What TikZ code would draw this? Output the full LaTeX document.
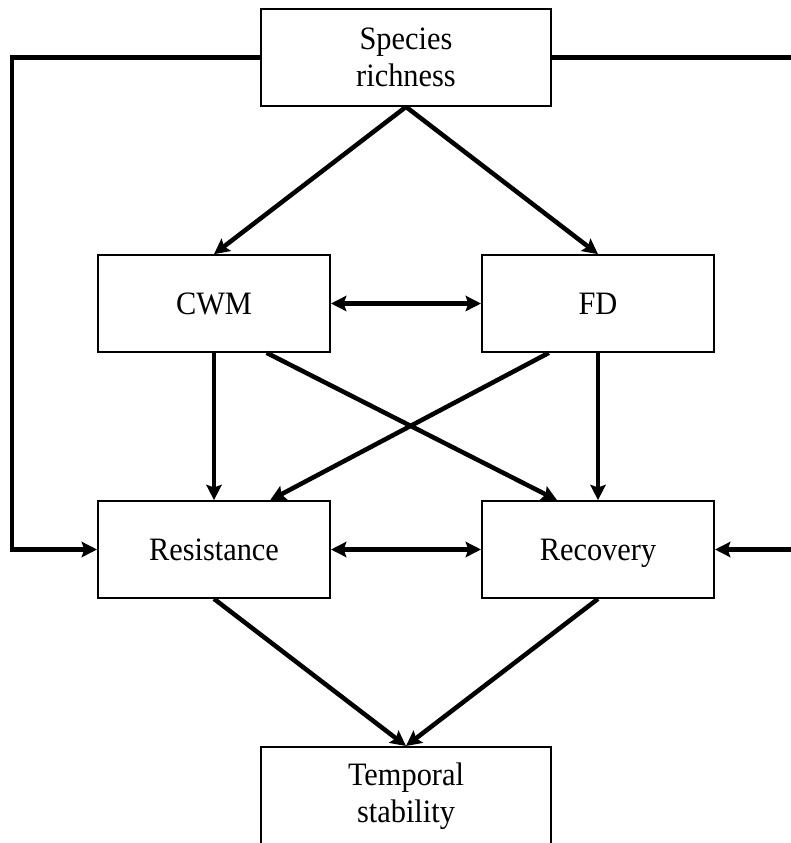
\documentclass[tikz,border=0pt]{standalone}
\usepackage{fontspec}
\setmainfont[FakeStretch=0.93]{Liberation Serif}
\usepackage{tikz}
\usetikzlibrary{calc, arrows.meta}

\begin{document}
\begin{tikzpicture}[x=0.75pt, y=-0.75pt,
    box/.style={
      rectangle,
      draw,
      line width=1.5pt,
      align=center,
      inner sep=0pt,
      font=\fontsize{24.5pt}{28pt}\selectfont
    },
    wide/.style={box, minimum width=217.5pt, minimum height=72.5pt},
    narrow/.style={box, minimum width=174pt, minimum height=72.5pt,
      text height=16.2pt, text depth=0pt},
    link/.style={line width=3.4pt},
    >={Stealth[length=11.5pt, width=11.5pt, inset=2pt]}]
  \useasboundingbox (0,0) rectangle (790,843);
  \node[wide] (SR) at (406,57.5) {Species\\richness};
  \node[narrow] (CWM) at (214,303.5) {CWM};
  \node[narrow] (FD) at (598,303.5) {FD};
  \node[narrow] (RES) at (214,549.5) {Resistance};
  \node[narrow] (REC) at (598,549.5) {Recovery};
  \node[wide, minimum height=73.5pt] (TS) at (406,796) {Temporal\\stability};
  \coordinate (L) at (12,0);
  \coordinate (R) at (796,0);

  % outer paths
  \draw[link,->] (SR.west) -- (SR.west -| L) |- (RES.west);
  \draw[link,->] (SR.east) -- (SR.east -| R) |- (REC.east);

  \draw[link,->] (SR.south) -- (CWM.north);
  \draw[link,->] (SR.south) -- (FD.north);
  \draw[link,<->] (CWM.east) -- (FD.west);

  \draw[link,->] (CWM.south) -- (RES.north);
  \draw[link,->] (FD.south) -- (REC.north);
  \draw[link,->] ($(CWM.south)!0.45!(CWM.south east)$) -- ($(REC.north)!0.35!(REC.north west)$);
  \draw[link,->] ($(FD.south)!0.42!(FD.south west)$) -- ($(RES.north)!0.48!(RES.north east)$);
  \draw[link,<->] (RES.east) -- (REC.west);

  \draw[link,->] (RES.south) -- (TS.north);
  \draw[link,->] (REC.south) -- (TS.north);
\end{tikzpicture}
\end{document}
